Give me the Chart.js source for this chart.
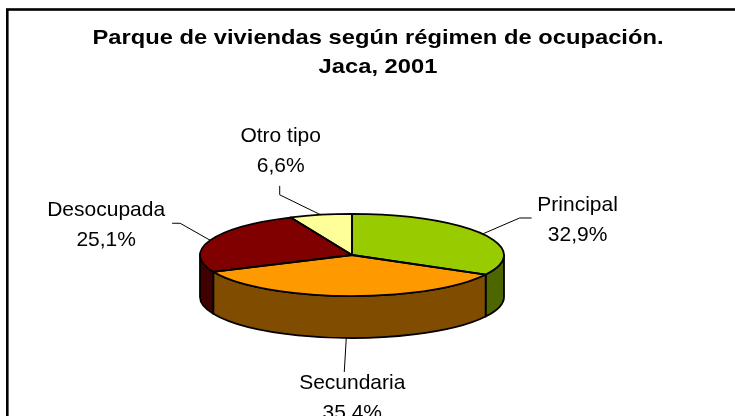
<!DOCTYPE html>
<html>
<head>
<meta charset="utf-8">
<script src="https://cdn.jsdelivr.net/npm/chart.js@4.4.0/dist/chart.umd.min.js"></script>
<style>
  html, body { margin: 0; padding: 0; background: #fff; }
  #wrap { width: 735px; height: 416px; }
</style>
</head>
<body>
<div id="wrap"><canvas id="pie" width="735" height="416"></canvas></div>
<script>
const titleLines = ['Parque de viviendas según régimen de ocupación.', 'Jaca, 2001'];
const categories = ['Principal', 'Secundaria', 'Desocupada', 'Otro tipo'];
const shares = [32.9, 35.4, 25.1, 6.6];
const topColors = ['#99CC00', '#FF9900', '#800000', '#FFFF99'];
const sideColors = ['#4D6600', '#804D00', '#400000', '#80804D'];

// where each label sits, relative to the point where its leader touches the pie
const labelLayout = [
  { leader: [[37, -16], [49, -16]], text: [95, -23] },
  { leader: [[-2, 34]], text: [6, 51] },
  { leader: [[-30, -17], [-38, -17]], text: [-104, -24] },
  { leader: [[-41, -20], [-41, -29]], text: [-40, -73] }
];

const TILT = 0.27;   // vertical squash of the pie
const DEPTH = 42;    // thickness of the pie wall
const LINE_GAP = 30;

function fmt(v) {
  return v.toFixed(1).replace('.', ',') + '%';
}

function squash(ctx, cx, cy) {
  ctx.translate(cx, cy);
  ctx.scale(1, TILT);
  ctx.translate(-cx, -cy);
}

const pie3d = {
  id: 'pie3d',
  beforeDatasetsDraw(chart) {
    const ctx = chart.ctx;
    const arcs = chart.getDatasetMeta(0).data;
    const { x: cx, y: cy, outerRadius: r } = arcs[0];
    const ry = r * TILT;

    // front wall of each slice
    ctx.save();
    ctx.lineWidth = 1.8;
    ctx.strokeStyle = '#000';
    ctx.lineJoin = 'round';
    arcs.forEach((arc, i) => {
      const a = Math.max(arc.startAngle, 0);
      const b = Math.min(arc.endAngle, Math.PI);
      if (b <= a) return;
      ctx.beginPath();
      ctx.ellipse(cx, cy, r, ry, 0, a, b);
      ctx.ellipse(cx, cy + DEPTH, r, ry, 0, b, a, true);
      ctx.closePath();
      ctx.fillStyle = sideColors[i];
      ctx.fill();
      ctx.stroke();
    });
    ctx.restore();

    // the library draws its round pie squashed into an ellipse
    ctx.save();
    squash(ctx, cx, cy);
  },
  afterDatasetsDraw(chart) {
    const ctx = chart.ctx;
    ctx.restore();

    const arcs = chart.getDatasetMeta(0).data;
    const { x: cx, y: cy, outerRadius: r } = arcs[0];
    const ry = r * TILT;

    // outlines of the top face, stroked without the squash
    ctx.save();
    ctx.lineWidth = 1.8;
    ctx.strokeStyle = '#000';
    ctx.lineJoin = 'round';
    arcs.forEach(arc => {
      ctx.save();
      squash(ctx, cx, cy);
      ctx.beginPath();
      ctx.moveTo(cx, cy);
      ctx.arc(cx, cy, r, arc.startAngle, arc.endAngle);
      ctx.closePath();
      ctx.restore();
      ctx.stroke();
    });

    // labels with leader lines
    ctx.font = '21px "Liberation Sans", Arial, sans-serif';
    ctx.textAlign = 'center';
    ctx.fillStyle = '#000';
    ctx.lineWidth = 1;
    arcs.forEach((arc, i) => {
      const mid = (arc.startAngle + arc.endAngle) / 2;
      const ax = cx + r * Math.cos(mid);
      let ay = cy + ry * Math.sin(mid);
      if (Math.sin(mid) > 0) ay += DEPTH;
      const lay = labelLayout[i];
      ctx.beginPath();
      ctx.moveTo(ax, ay);
      lay.leader.forEach(([dx, dy]) => ctx.lineTo(ax + dx, ay + dy));
      ctx.stroke();
      const tx = ax + lay.text[0];
      const ty = ay + lay.text[1];
      ctx.fillText(categories[i], tx, ty);
      ctx.fillText(fmt(shares[i]), tx, ty + LINE_GAP);
    });
    ctx.restore();
  },
  afterDraw(chart) {
    const ctx = chart.ctx;
    ctx.save();
    // chart frame, cut off at the right and bottom like the original
    ctx.lineWidth = 2.6;
    ctx.strokeStyle = '#000';
    ctx.strokeRect(7.3, 9.5, chart.width + 20, chart.height + 20);

    ctx.font = 'bold 21px "Liberation Sans", Arial, sans-serif';
    ctx.textAlign = 'center';
    ctx.fillStyle = '#000';
    titleLines.forEach((t, i) => {
      ctx.save();
      ctx.translate(378, 44 + i * 29);
      ctx.scale(1.13, 1);
      ctx.fillText(t, 0, 0);
      ctx.restore();
    });
    ctx.restore();
  }
};

const chart = new Chart(document.getElementById('pie'), {
  type: 'pie',
  data: {
    labels: categories,
    datasets: [{
      data: shares,
      backgroundColor: topColors,
      borderWidth: 0
    }]
  },
  options: {
    responsive: false,
    animation: false,
    events: [],
    layout: {
      padding: { left: 200, right: 231, top: 103, bottom: 9 }
    },
    plugins: {
      legend: { display: false },
      tooltip: { enabled: false },
      title: { display: false }
    }
  },
  plugins: [pie3d]
});
</script>
</body>
</html>
